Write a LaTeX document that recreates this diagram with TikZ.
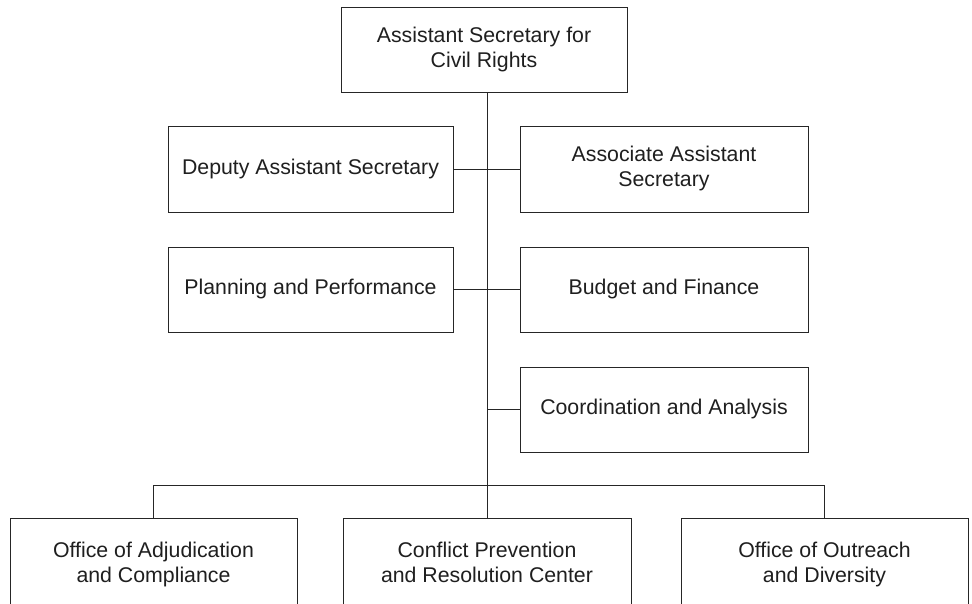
\documentclass[tikz,border=0pt]{standalone}
\usepackage{fontspec}
\setmainfont{Liberation Sans}
\begin{document}
\begin{tikzpicture}[x=1pt,y=-1pt,
  box/.style={draw=black!85, line width=1pt, fill=white, align=center, inner sep=0pt,
    text depth=5pt, font=\fontsize{21.3}{25}\selectfont, text=black!88},
  link/.style={draw=black!85, line width=1pt}]
\useasboundingbox (0,0) rectangle (972,603);
\clip (0,0) rectangle (972,603);
\node[box, minimum width=286pt, minimum height=85pt] (top) at (484,49.5) {Assistant Secretary for\\Civil Rights};
\node[box, minimum width=285pt, minimum height=86pt] (dep) at (310.5,169) {Deputy Assistant Secretary};
\node[box, minimum width=288pt, minimum height=86pt] (assoc) at (664,169) {Associate Assistant\\Secretary};
\node[box, minimum width=285pt, minimum height=85pt] (plan) at (310.5,289.5) {Planning and Performance};
\node[box, minimum width=288pt, minimum height=85pt] (budget) at (664,289.5) {Budget and Finance};
\node[box, minimum width=288pt, minimum height=85pt] (coord) at (664,409.5) {Coordination and Analysis};
\node[box, minimum width=287pt, minimum height=93pt] (adj) at (153.5,564.5) {Office of Adjudication\\and Compliance};
\node[box, minimum width=288pt, minimum height=93pt] (cprc) at (487,564.5) {Conflict Prevention\\and Resolution Center};
\node[box, minimum width=287pt, minimum height=93pt] (outr) at (824.5,564.5) {Office of Outreach\\and Diversity};
\coordinate (trunktop) at (top.south -| cprc.north);
\coordinate (bus) at (487,485.5);
\draw[link] (trunktop) -- (cprc.north);
\draw[link] (dep.east) -- (assoc.west);
\draw[link] (plan.east) -- (budget.west);
\draw[link] (coord.west) -- (coord.west -| trunktop);
\draw[link] (adj.north) |- (bus) -| (outr.north);
\end{tikzpicture}
\end{document}
